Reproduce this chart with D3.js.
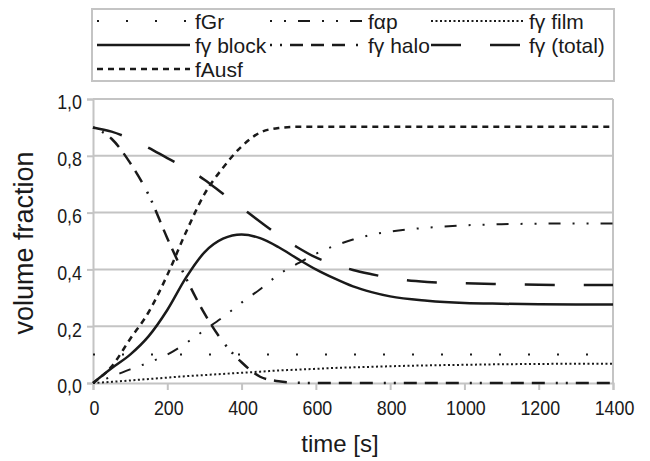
<!DOCTYPE html>
<html>
<head>
<meta charset="utf-8">
<script src="https://cdn.jsdelivr.net/npm/d3@7"></script>
<style>
  html, body { margin: 0; padding: 0; background: #fff; }
  svg { display: block; font-family: "Liberation Sans", Arial, sans-serif; }
</style>
</head>
<body>
<svg id="chart" width="650" height="461"></svg>
<script>
// Time axis (s)
const time = [0, 50, 100, 150, 200, 250, 300, 350, 400, 450, 500, 550, 600, 650, 700, 750, 800, 900, 1000, 1100, 1200, 1300, 1400];

// Volume fractions of each constituent over time
const fGr        = [0.1, 0.1, 0.1, 0.1, 0.1, 0.1, 0.1, 0.1, 0.1, 0.1, 0.1, 0.1, 0.1, 0.1, 0.1, 0.1, 0.1, 0.1, 0.1, 0.1, 0.1, 0.1, 0.1];
const fAlphaP    = [0, 0.022, 0.048, 0.072, 0.1, 0.14, 0.186, 0.232, 0.283, 0.33, 0.382, 0.42, 0.455, 0.483, 0.505, 0.522, 0.533, 0.547, 0.555, 0.559, 0.561, 0.562, 0.562];
const fGammaFilm = [0, 0.004, 0.009, 0.014, 0.019, 0.024, 0.028, 0.032, 0.036, 0.04, 0.044, 0.047, 0.05, 0.053, 0.055, 0.057, 0.059, 0.062, 0.064, 0.066, 0.067, 0.068, 0.068];
const fGammaBlock= [0, 0.052, 0.1, 0.165, 0.257, 0.37, 0.46, 0.508, 0.523, 0.51, 0.478, 0.438, 0.4, 0.368, 0.34, 0.32, 0.305, 0.29, 0.282, 0.279, 0.277, 0.276, 0.276];
const fGammaHalo = [0.9, 0.86, 0.775, 0.662, 0.51, 0.37, 0.245, 0.145, 0.073, 0.022, 0.006, 0.001, 0, 0, 0, 0, 0, 0, 0, 0, 0, 0, 0];
const fGammaTotal= [0.9, 0.885, 0.86, 0.828, 0.792, 0.757, 0.716, 0.666, 0.617, 0.568, 0.52, 0.478, 0.442, 0.418, 0.398, 0.383, 0.37, 0.356, 0.351, 0.348, 0.346, 0.345, 0.345];
const fAusf      = [0, 0.058, 0.155, 0.25, 0.38, 0.53, 0.665, 0.758, 0.833, 0.882, 0.898, 0.902, 0.902, 0.902, 0.902, 0.902, 0.902, 0.902, 0.902, 0.902, 0.902, 0.902, 0.902];

const seriesNames = ["fGr", "fαp", "fγ film", "fγ block", "fγ halo", "fγ (total)", "fAusf"];
const seriesValues = [fGr, fAlphaP, fGammaFilm, fGammaBlock, fGammaHalo, fGammaTotal, fAusf];

// Axis ticks
const xTicks = [0, 200, 400, 600, 800, 1000, 1200, 1400];
const yTicks = [0, 0.2, 0.4, 0.6, 0.8, 1.0];

// Line styles per series
const styles = [
  { dash: "2,27",                       width: 2 },
  { dash: "2,12,2,12,12,12",            width: 2 },
  { dash: "2,2.5",                      width: 2 },
  { dash: null,                         width: 2.5 },
  { dash: "2,8,2,8,13,8,13,8,13,11",    width: 2.5 },
  { dash: "30,29",                      width: 2.5 },
  { dash: "6,5",                        width: 2.5 }
];

const ink = "#1a1a1a";
const gridColor = "#c4c4c4";
const narrow = 0.85;   // horizontal squeeze of tick numerals

const svg = d3.select("#chart");
const plot = { left: 93, right: 613, top: 99, bottom: 383 };

const x = d3.scaleLinear().domain([0, 1400]).range([plot.left, plot.right]);
const y = d3.scaleLinear().domain([0, 1]).range([plot.bottom, plot.top]);

const commaFmt = d => d3.format(".1f")(d).replace(".", ",");

// Horizontal gridlines
svg.append("g")
  .selectAll("line")
  .data(yTicks.filter(d => d > 0))
  .join("line")
  .attr("x1", plot.left).attr("x2", plot.right)
  .attr("y1", d => y(d)).attr("y2", d => y(d))
  .attr("stroke", gridColor).attr("stroke-width", 2);

// Right border of the plot area
svg.append("line")
  .attr("x1", plot.right).attr("x2", plot.right)
  .attr("y1", plot.top).attr("y2", plot.bottom)
  .attr("stroke", gridColor).attr("stroke-width", 2);

// Y axis
const yAxis = svg.append("g")
  .attr("transform", `translate(${plot.left},0)`)
  .call(d3.axisLeft(y).tickValues(yTicks).tickFormat(commaFmt).tickSize(6).tickPadding(0));
yAxis.select(".domain").attr("stroke", gridColor).attr("stroke-width", 2);
yAxis.selectAll(".tick line").attr("stroke", gridColor).attr("stroke-width", 2);
yAxis.selectAll(".tick text")
  .attr("fill", ink).attr("font-size", 21)
  .attr("font-family", "Liberation Sans, Arial, sans-serif")
  .attr("x", null)
  .attr("dy", "0.42em")
  .attr("transform", `translate(-11,1) scale(${narrow},1)`);

// X axis
const xAxis = svg.append("g")
  .attr("transform", `translate(0,${plot.bottom})`)
  .call(d3.axisBottom(x).tickValues(xTicks).tickFormat(d3.format("d")).tickSize(7).tickPadding(10));
xAxis.select(".domain").attr("stroke", gridColor).attr("stroke-width", 2);
xAxis.selectAll(".tick line").attr("stroke", gridColor).attr("stroke-width", 2);
xAxis.selectAll(".tick text")
  .attr("fill", ink).attr("font-size", 21)
  .attr("font-family", "Liberation Sans, Arial, sans-serif")
  .attr("transform", `translate(1,0) scale(${narrow},1)`);

// Axis titles
svg.append("text")
  .attr("x", 340).attr("y", 452)
  .attr("text-anchor", "middle")
  .attr("font-size", 24).attr("fill", ink)
  .text("time [s]");

svg.append("text")
  .attr("transform", `translate(33,243) rotate(-90)`)
  .attr("text-anchor", "middle")
  .attr("font-size", 27).attr("fill", ink)
  .text("volume fraction");

// Series lines
const line = d3.line()
  .x((d, i) => x(time[i]))
  .y(d => y(d))
  .curve(d3.curveMonotoneX);

svg.append("g")
  .selectAll("path")
  .data(seriesValues)
  .join("path")
  .attr("d", d => line(d))
  .attr("fill", "none")
  .attr("stroke", ink)
  .attr("stroke-width", (d, i) => styles[i].width)
  .attr("stroke-dasharray", (d, i) => styles[i].dash);

// Legend
const legendBox = { x: 92, y: 9, w: 522, h: 72 };
svg.append("rect")
  .attr("x", legendBox.x).attr("y", legendBox.y)
  .attr("width", legendBox.w).attr("height", legendBox.h)
  .attr("fill", "#fff").attr("stroke", gridColor).attr("stroke-width", 2);

const colX = [97, 270, 431];
const rowY = [21, 45, 69];
const legendItems = seriesNames.map((name, i) => ({
  name, i, col: i % 3, row: Math.floor(i / 3)
}));

const legend = svg.append("g");
const entry = legend.selectAll("g")
  .data(legendItems)
  .join("g")
  .attr("transform", d => `translate(${colX[d.col]},${rowY[d.row]})`);

entry.append("line")
  .attr("x1", 0).attr("x2", 93)
  .attr("y1", 0).attr("y2", 0)
  .attr("stroke", ink)
  .attr("stroke-width", d => styles[d.i].width)
  .attr("stroke-dasharray", d => styles[d.i].dash);

entry.append("text")
  .attr("x", 98).attr("y", 0)
  .attr("dy", "0.36em")
  .attr("font-size", 21)
  .attr("fill", ink)
  .text(d => d.name);
</script>
</body>
</html>
